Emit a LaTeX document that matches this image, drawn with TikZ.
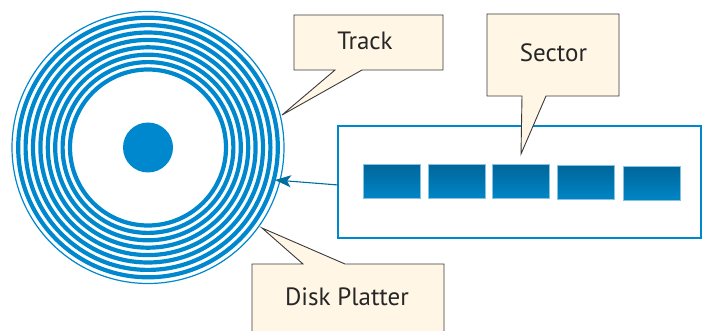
\documentclass[tikz,border=0pt]{standalone}
\usepackage{fontspec}
\setmainfont{PT Sans}
\usetikzlibrary{arrows.meta}
\definecolor{ringblue}{HTML}{0088CE}
\definecolor{blkTop}{HTML}{006699}
\definecolor{blkBot}{HTML}{0085C6}
\definecolor{blkEdge}{HTML}{86C3E3}
\definecolor{arrblue}{HTML}{006C9F}
\definecolor{cream}{HTML}{FFF6E6}
\definecolor{callout}{HTML}{3A3A3A}
\tikzset{
  ring/.style={draw=ringblue, line width=4.2pt},
  calloutshape/.style={fill=cream, draw=callout, line width=0.9pt, line join=miter},
  lbl/.style={font=\fontsize{25}{28}\selectfont, text=black!85, inner sep=0pt},
  sectorblk/.style={draw=blkEdge, line width=0.8pt, top color=blkTop, bottom color=blkBot, minimum width=57pt, minimum height=34pt, inner sep=0pt},
}
\begin{document}
\begin{tikzpicture}[x=1pt, y=-1pt]
\useasboundingbox (0,0) rectangle (709,331);
% disk
\node[circle, minimum size=272pt, inner sep=0pt, draw=ringblue, line width=1.2pt] (disk) at (148,147.5) {};
\foreach \r in {78,85.4,92.8,100.2,107.6,115,122.4,129.8}
  \draw[ring] (disk.center) circle[radius=\r pt];
\node[circle, fill=ringblue, minimum size=50pt, inner sep=0pt] (hub) at (disk.center) {};
% sector box
\node[draw=ringblue, line width=2pt, minimum width=362.7pt, minimum height=112pt, inner sep=0pt] (sbox) at (519.7,181.7) {};
\node[sectorblk] (b1) at (392,181.3) {};
\node[sectorblk] (b2) at (456.5,181.3) {};
\node[sectorblk] (b3) at (521.2,181.3) {};
\node[sectorblk] (b4) at (585.7,182.5) {};
\node[sectorblk] (b5) at (651.7,183.3) {};
% arrow
\coordinate (arrs) at (338.3,185);
\coordinate (arrt) at (275,180);
\draw[arrblue, line width=1.1pt, -{Stealth[length=16pt, width=12pt, inset=4pt]}] (arrs) -- (arrt);
% callout tips
\coordinate (tTrack) at (282,115);
\coordinate (tSector) at (521,154);
\coordinate (tPlat) at (262,228);
% Track callout
\draw[calloutshape] (294,15) -- (443,15) -- (443,70) -- (362,70) -- (tTrack) -- (335,70) -- (294,70) -- cycle;
\node[lbl] (track) at (365,41) {Track};
% Sector callout
\draw[calloutshape] (487,14) -- (619,14) -- (619,96) -- (546,96) -- (tSector) -- (522,96) -- (487,96) -- cycle;
\node[lbl] (sector) at (553.5,53) {Sector};
% Disk Platter callout
\fill[cream] (252,331) -- (252,264) -- (303,264) -- (tPlat) -- (345,264) -- (444,264) -- (444,331) -- cycle;
\draw[calloutshape, fill=none] (252,331) -- (252,264) -- (303,264) -- (tPlat) -- (345,264) -- (444,264) -- (444,331);
\node[lbl] (plat) at (347,297) {Disk Platter};
\end{tikzpicture}
\end{document}
